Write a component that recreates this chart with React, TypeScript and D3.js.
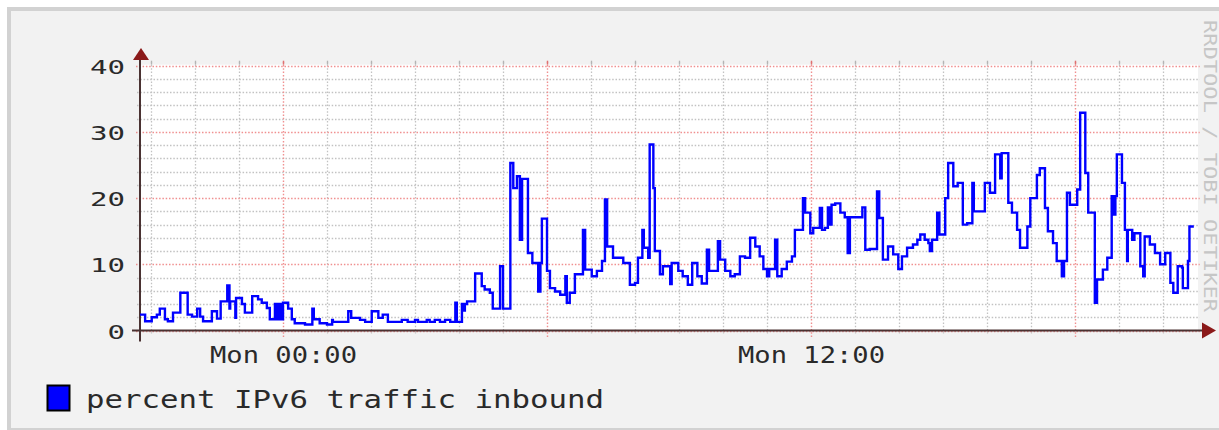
import React, { useEffect, useRef } from 'react';
import * as d3 from 'd3';

// step changes: minutes relative to Mon 00:00, value in percent
const minutes = [
  -195, -188, -179, -172, -168, -161, -157, -150, -140, -130, -124, -117, -113, -109, -97, -90, -85, -76, -73, -72,
  -65, -64, -56, -52, -42, -34, -29, -22, -18, -11, -8, -5, -3, 0, 7, 12, 16, 30, 40, 42,
  50, 60, 67, 68, 89, 93, 105, 112, 121, 130, 136, 143, 162, 170, 180, 184, 196, 200, 207, 214,
  221, 228, 235, 237, 244, 247, 248, 251, 262, 271, 275, 282, 286, 296, 300, 310, 314, 319, 323, 326,
  334, 340, 348, 351, 353, 360, 364, 371, 378, 385, 387, 391, 398, 409, 412, 421, 428, 435, 439, 442,
  450, 464, 473, 480, 484, 490, 492, 498, 500, 505, 507, 514, 518, 528, 530, 539, 545, 552, 558, 565,
  571, 578, 581, 593, 596, 603, 610, 616, 623, 630, 637, 644, 650, 655, 660, 663, 671, 674, 680, 687,
  694, 698, 709, 712, 719, 723, 732, 735, 739, 743, 746, 748, 753, 760, 766, 770, 773, 790, 794, 800,
  810, 813, 818, 825, 832, 839, 844, 851, 859, 865, 869, 875, 880, 882, 885, 892, 895, 903, 907, 914,
  920, 927, 933, 940, 942, 957, 964, 971, 978, 980, 989, 994, 1001, 1005, 1015, 1019, 1028, 1032, 1039, 1043,
  1050, 1055, 1062, 1065, 1069, 1073, 1083, 1087, 1094, 1098, 1107, 1110, 1118, 1124, 1130, 1133, 1135, 1137, 1144, 1148,
  1151, 1152, 1158, 1161, 1169, 1173, 1175, 1182, 1189, 1196, 1203, 1210, 1214, 1220, 1226, 1227, 1234, 1236
];
const percent = [
  2.4, 1.4, 2.0, 2.4, 3.3, 1.7, 1.4, 2.7, 5.7, 2.4, 2.1, 3.3, 2.1, 1.4, 2.9, 1.8, 4.4, 6.8, 3.3, 4.4,
  1.9, 4.9, 4.0, 2.7, 5.2, 4.7, 4.2, 3.4, 1.7, 4.0, 1.7, 4.0, 1.7, 4.2, 3.3, 1.7, 1.1, 0.9, 3.3, 1.7,
  1.1, 0.9, 1.6, 1.3, 2.9, 1.9, 1.6, 1.3, 2.9, 1.9, 2.4, 1.3, 1.6, 1.3, 1.6, 1.3, 1.6, 1.3, 1.6, 1.3,
  1.6, 1.3, 4.2, 1.3, 4.0, 3.0, 4.0, 4.4, 8.6, 6.7, 6.2, 5.7, 3.3, 9.7, 3.3, 25.3, 21.5, 23.3, 13.7, 22.9,
  11.7, 10.2, 5.9, 10.2, 16.9, 9.0, 6.4, 5.9, 5.4, 8.2, 4.2, 5.7, 8.5, 15.2, 9.2, 8.2, 9.0, 10.5, 19.8, 12.7,
  11.0, 10.2, 6.9, 7.2, 11.0, 15.2, 12.5, 11.0, 28.1, 21.5, 12.0, 8.5, 9.7, 7.0, 10.2, 9.0, 8.2, 6.9, 10.2, 8.2,
  7.1, 12.2, 9.0, 13.5, 10.7, 9.0, 8.2, 8.5, 11.2, 11.0, 14.0, 12.7, 11.2, 9.3, 8.2, 9.3, 13.7, 8.2, 9.3, 10.4,
  11.2, 15.2, 20.0, 17.8, 14.7, 15.5, 18.5, 15.2, 15.5, 18.6, 16.0, 19.0, 19.2, 17.8, 17.1, 11.7, 17.1, 18.6, 12.2, 12.3,
  21.0, 17.0, 10.7, 12.7, 11.5, 9.3, 11.2, 12.5, 13.0, 13.7, 14.5, 13.7, 13.2, 12.0, 13.7, 17.8, 14.5, 20.0, 25.3, 21.8,
  22.3, 16.0, 16.2, 22.3, 18.0, 22.3, 20.8, 26.6, 23.0, 26.8, 19.3, 17.8, 15.2, 12.5, 15.7, 20.0, 23.5, 24.5, 18.5, 15.0,
  13.2, 10.5, 8.2, 10.5, 20.8, 19.0, 21.3, 32.9, 23.8, 17.8, 4.2, 7.7, 9.2, 11.0, 20.3, 17.5, 20.3, 26.6, 22.3, 15.2,
  10.5, 15.2, 13.7, 14.7, 9.7, 8.2, 14.2, 13.0, 11.7, 10.0, 11.7, 7.2, 5.7, 9.7, 9.5, 6.4, 10.5, 15.7
];
const endMinute = 1242;

const yTicks = [0, 10, 20, 30, 40];
const xLabelMinutes = [0, 720];
const xLabelText = ['Mon 00:00', 'Mon 12:00'];
const legendText = 'percent IPv6 traffic inbound';
const watermark = 'RRDTOOL / TOBI OETIKER';

const W = 1219;
const H = 430;
const MONO = '"DejaVu Sans Mono", "Liberation Mono", monospace';

function drawChart(node) {
  const svg = d3.select(node);
  svg.selectAll('*').remove();

  const x = d3.scaleLinear().domain([-195, 1250]).range([140, 1199.7]);
  const y = d3.scaleLinear().domain([0, 40]).range([330.5, 65.7]);
  const [plotL, plotR] = x.range();
  const [plotB, plotT] = y.range();

  // frame
  svg.append('rect').attr('x', 0).attr('y', 0).attr('width', W).attr('height', H).attr('fill', '#ffffff');
  svg.append('rect').attr('x', 7).attr('y', 7).attr('width', W - 7).attr('height', H - 7).attr('fill', '#d2d2d2');
  svg.append('rect').attr('x', 11).attr('y', 11).attr('width', W - 11).attr('height', H - 13).attr('fill', '#f2f2f2');

  // canvas
  svg.append('rect')
    .attr('x', plotL).attr('y', plotT - 1)
    .attr('width', 1198 - plotL).attr('height', plotB - plotT + 1)
    .attr('fill', '#ffffff');

  const grid = svg.append('g');

  // horizontal minor grid
  const hMinor = d3.range(2, 40, 2).filter(v => v % 10 !== 0);
  hMinor.forEach(v => {
    grid.append('line')
      .attr('x1', plotL - 3).attr('x2', plotR)
      .attr('y1', Math.round(y(v)) + 0.5).attr('y2', Math.round(y(v)) + 0.5)
      .attr('stroke', '#c2c2c2').attr('stroke-width', 1.3)
      .attr('stroke-dasharray', '1.5,1.8');
  });

  // vertical minor grid (hourly)
  const vMinor = d3.range(-180, 1250, 60).filter(m => m % 360 !== 0);
  vMinor.forEach(m => {
    const px = Math.round(x(m)) + 0.5;
    grid.append('line')
      .attr('x1', px).attr('x2', px).attr('y1', plotT - 4).attr('y2', plotB + 3)
      .attr('stroke', '#c2c2c2').attr('stroke-width', 1.3)
      .attr('stroke-dasharray', '1.5,1.8');
    grid.append('line')
      .attr('x1', px).attr('x2', px).attr('y1', plotT - 5).attr('y2', plotT - 1)
      .attr('stroke', '#b4b4b4').attr('stroke-width', 1.3);
  });

  // major grid
  yTicks.forEach(v => {
    grid.append('line')
      .attr('x1', plotL - 4).attr('x2', plotR)
      .attr('y1', Math.round(y(v)) + 0.5).attr('y2', Math.round(y(v)) + 0.5)
      .attr('stroke', '#f09090').attr('stroke-width', 1.4)
      .attr('stroke-dasharray', '1.5,1.8');
  });
  const vMajor = d3.range(0, 1250, 360);
  vMajor.forEach(m => {
    const px = Math.round(x(m)) + 0.5;
    grid.append('line')
      .attr('x1', px).attr('x2', px).attr('y1', plotT - 4).attr('y2', plotB + 7)
      .attr('stroke', '#f09090').attr('stroke-width', 1.4)
      .attr('stroke-dasharray', '1.5,1.8');
    grid.append('line')
      .attr('x1', px).attr('x2', px).attr('y1', plotT - 5).attr('y2', plotT - 1)
      .attr('stroke', '#e07070').attr('stroke-width', 1.4);
  });

  // axes
  const axisColor = '#4a3232';
  svg.append('line')
    .attr('x1', plotL - 8).attr('x2', 1204)
    .attr('y1', plotB).attr('y2', plotB)
    .attr('stroke', axisColor).attr('stroke-width', 2);
  svg.append('line')
    .attr('x1', plotL).attr('x2', plotL)
    .attr('y1', plotB + 11).attr('y2', 58)
    .attr('stroke', axisColor).attr('stroke-width', 2);
  svg.append('path')
    .attr('d', `M${plotL + 1},48 L${plotL - 7},60 L${plotL + 9},60 Z`)
    .attr('fill', '#8b1a1a');
  svg.append('path')
    .attr('d', `M1216,${plotB} L1202,${plotB - 8} L1202,${plotB + 8} Z`)
    .attr('fill', '#8b1a1a');

  // data line
  const pts = minutes.map((m, i) => [m, percent[i]]);
  pts.push([endMinute, percent[percent.length - 1]]);
  const line = d3.line()
    .x(d => x(d[0]))
    .y(d => y(d[1]))
    .curve(d3.curveStepAfter);
  svg.append('path')
    .datum(pts)
    .attr('d', line)
    .attr('fill', 'none')
    .attr('stroke', '#0000ff')
    .attr('stroke-width', 2.4)
    .attr('stroke-linejoin', 'miter');

  // y labels
  yTicks.forEach(v => {
    const s = String(v);
    svg.append('text')
      .attr('x', 125)
      .attr('y', y(v) + 8)
      .attr('text-anchor', 'end')
      .attr('font-family', MONO)
      .attr('font-size', 20)
      .attr('fill', '#2a2a2a')
      .attr('textLength', s.length * 17.5)
      .attr('lengthAdjust', 'spacingAndGlyphs')
      .text(s);
  });

  // x labels
  xLabelMinutes.forEach((m, i) => {
    svg.append('text')
      .attr('x', x(m) + 0.5)
      .attr('y', 363)
      .attr('text-anchor', 'middle')
      .attr('font-family', MONO)
      .attr('font-size', 23)
      .attr('fill', '#2a2a2a')
      .attr('textLength', 147)
      .attr('lengthAdjust', 'spacingAndGlyphs')
      .text(xLabelText[i]);
  });

  // legend
  svg.append('rect')
    .attr('x', 47.5).attr('y', 385.5).attr('width', 22).attr('height', 25)
    .attr('fill', '#0000ff').attr('stroke', '#000000').attr('stroke-width', 2);
  svg.append('text')
    .attr('x', 86)
    .attr('y', 408)
    .attr('font-family', MONO)
    .attr('font-size', 25)
    .attr('fill', '#2a2a2a')
    .attr('textLength', 518)
    .attr('lengthAdjust', 'spacingAndGlyphs')
    .text(legendText);

  // watermark
  svg.append('text')
    .attr('x', 1204)
    .attr('y', 20)
    .attr('transform', 'rotate(90,1204,20)')
    .attr('font-family', MONO)
    .attr('font-size', 17)
    .attr('fill', '#c6c6c6')
    .attr('textLength', 292)
    .attr('lengthAdjust', 'spacingAndGlyphs')
    .text(watermark);
}

const App = () => {
  const ref = useRef(null);
  useEffect(() => {
    drawChart(ref.current);
  }, []);

  return (
    <svg
      ref={ref}
      width={W}
      height={H}
      style={{ position: 'absolute', left: 0, top: 0, display: 'block' }}
    />
  );
};

export default App;
